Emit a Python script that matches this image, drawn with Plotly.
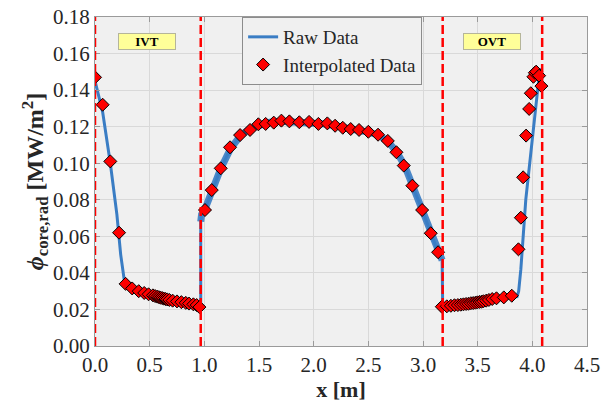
import plotly.graph_objects as go

# Interpolated samples (x in m, radiative core heat flux in MW/m^2)
ivt_x = [0.00, 0.07, 0.14, 0.22, 0.28, 0.34, 0.40, 0.45, 0.49, 0.53, 0.55, 0.57, 0.585, 0.60,
         0.615, 0.63, 0.645, 0.66, 0.68, 0.71, 0.75, 0.79, 0.83, 0.86, 0.90, 0.93, 0.955]
ivt_y = [0.147, 0.132, 0.101, 0.062, 0.034, 0.0315, 0.0300, 0.0290, 0.0283, 0.0277, 0.0273,
         0.0270, 0.0267, 0.0264, 0.0262, 0.0259, 0.0257, 0.0255, 0.0252, 0.0248, 0.0244,
         0.0240, 0.0236, 0.0232, 0.0228, 0.0224, 0.0213]

core_x = [1.006, 1.068, 1.15, 1.235, 1.327, 1.418, 1.494, 1.561, 1.635, 1.705, 1.778, 1.869,
          1.958, 2.043, 2.125, 2.196, 2.266, 2.339, 2.415, 2.50, 2.589, 2.678, 2.757, 2.824,
          2.903, 2.992, 3.071, 3.138]
core_y = [0.0744, 0.0853, 0.0972, 0.1087, 0.1154, 0.1182, 0.1213, 0.1215, 0.1222, 0.1233,
          0.1229, 0.1224, 0.1226, 0.1215, 0.1218, 0.1205, 0.1194, 0.1187, 0.1182, 0.1172,
          0.1156, 0.1122, 0.1060, 0.0987, 0.0877, 0.0744, 0.0617, 0.0513]

ovt_x = [3.172, 3.218, 3.255, 3.288, 3.319, 3.346, 3.370, 3.394, 3.416, 3.438, 3.459, 3.480,
         3.498, 3.517, 3.535, 3.553, 3.578, 3.603, 3.633, 3.672, 3.739, 3.812,
         3.873, 3.895, 3.916, 3.943, 3.971, 3.986, 4.010, 4.023, 4.035, 4.062, 4.083]
ovt_y = [0.0215, 0.0217, 0.0220, 0.0223, 0.0224, 0.0226, 0.0228, 0.0230, 0.0231, 0.0234,
         0.0235, 0.0237, 0.0239, 0.0241, 0.0242, 0.0245, 0.0248, 0.0252, 0.0257, 0.0261,
         0.0266, 0.0275,
         0.0529, 0.0702, 0.0923, 0.1151, 0.1297, 0.1383, 0.1473, 0.1495, 0.1501, 0.1479, 0.1422]

# Raw profile along the divertor coordinate
raw_x = [0.00, 0.07, 0.14, 0.20, 0.235, 0.255, 0.27, 0.29, 0.35, 0.45, 0.55, 0.65, 0.75, 0.85,
         0.95, 0.967,
         0.967, 0.975, 1.0, 1.07, 1.15, 1.24, 1.33, 1.42, 1.50, 1.60, 1.70, 1.80, 1.90, 2.00,
         2.10, 2.20, 2.30, 2.40, 2.50, 2.59, 2.68, 2.76, 2.83, 2.90, 2.99, 3.07, 3.135, 3.175,
         3.18, 3.20, 3.40, 3.60, 3.80, 3.86, 3.875, 3.895, 3.94, 4.00, 4.07]
raw_y = [0.145, 0.128, 0.100, 0.072, 0.050, 0.040, 0.035, 0.033, 0.031, 0.029, 0.027, 0.0255,
         0.024, 0.0228, 0.0215, 0.021,
         0.068, 0.072, 0.074, 0.085, 0.097, 0.108, 0.115, 0.119, 0.121, 0.1225, 0.123, 0.1228,
         0.1225, 0.122, 0.1215, 0.1205, 0.119, 0.118, 0.117, 0.1155, 0.112, 0.106, 0.099,
         0.088, 0.075, 0.062, 0.052, 0.047,
         0.0215, 0.0218, 0.023, 0.0245, 0.0265, 0.027, 0.030, 0.042, 0.080, 0.114, 0.152]
core_slice = slice(16, 44)

# Region boundaries and labels
boundary_x = [0.0, 0.967, 3.18, 4.09]
region_labels = ["IVT", "OVT"]
region_label_x = [0.476, 3.632]
region_label_y = 0.1666

x_ticks = [0.0, 0.5, 1.0, 1.5, 2.0, 2.5, 3.0, 3.5, 4.0, 4.5]
y_ticks = [0.00, 0.02, 0.04, 0.06, 0.08, 0.10, 0.12, 0.14, 0.16, 0.18]

blue = "#3a7dc4"
serif = "Liberation Serif"

fig = go.Figure()

# noisy hump of the raw signal drawn as a broader band
fig.add_trace(go.Scatter(
    x=raw_x[core_slice], y=raw_y[core_slice], mode="lines",
    line=dict(color=blue, width=7), opacity=0.9, showlegend=False, hoverinfo="skip"))

fig.add_trace(go.Scatter(
    x=raw_x, y=raw_y, mode="lines", name="Raw Data",
    line=dict(color=blue, width=3)))

interp_x = ivt_x + core_x + ovt_x
interp_y = ivt_y + core_y + ovt_y
fig.add_trace(go.Scatter(
    x=interp_x, y=interp_y, mode="markers", name="Interpolated Data",
    marker=dict(symbol="diamond", size=10, color="#ff0000",
                line=dict(color="black", width=1))))

for bx in boundary_x:
    fig.add_shape(type="line", x0=bx, x1=bx, y0=0, y1=1, xref="x", yref="paper",
                  line=dict(color="#ff0000", width=2.5, dash="9px,4px"), layer="above")

for label, lx in zip(region_labels, region_label_x):
    fig.add_annotation(
        x=lx, y=region_label_y, xref="x", yref="y", text=f"<b>{label}</b>",
        showarrow=False, font=dict(family=serif, size=13, color="black"),
        bgcolor="#ffff99", bordercolor="#b5b59a", borderwidth=1, borderpad=1,
        width=54, height=13)

axis_common = dict(
    showline=True, linecolor="#9a9a9a", linewidth=1, mirror="allticks",
    ticks="inside", ticklen=5, tickcolor="#9a9a9a", automargin=False,
    showgrid=True, gridcolor="#d9d9d9", gridwidth=1, zeroline=False,
    tickfont=dict(family=serif, size=21, color="#262626"))

fig.update_xaxes(
    range=[0, 4.5], tickvals=x_ticks, tickformat=".1f",
    title=dict(text="<b>x [m]</b>", font=dict(family=serif, size=22, color="#262626"),
               standoff=4),
    **axis_common)
fig.update_yaxes(
    range=[0, 0.18], tickvals=y_ticks, tickformat=".2f",
    title=dict(text="<b><i>ϕ</i><sub>core,rad</sub> [MW/m<sup>2</sup>]</b>",
               font=dict(family=serif, size=24, color="#262626"), standoff=2),
    **axis_common)

fig.update_layout(
    width=601, height=404,
    margin=dict(l=95, r=14, t=17, b=58),
    paper_bgcolor="white", plot_bgcolor="#f0f0f0",
    legend=dict(x=0.299, y=1.0, xanchor="left", yanchor="top",
                bgcolor="#f0f0f0", bordercolor="#8c8c8c", borderwidth=1,
                font=dict(family=serif, size=19, color="#262626"),
                itemwidth=30, tracegroupgap=0),
)

fig.write_html("out.html")
